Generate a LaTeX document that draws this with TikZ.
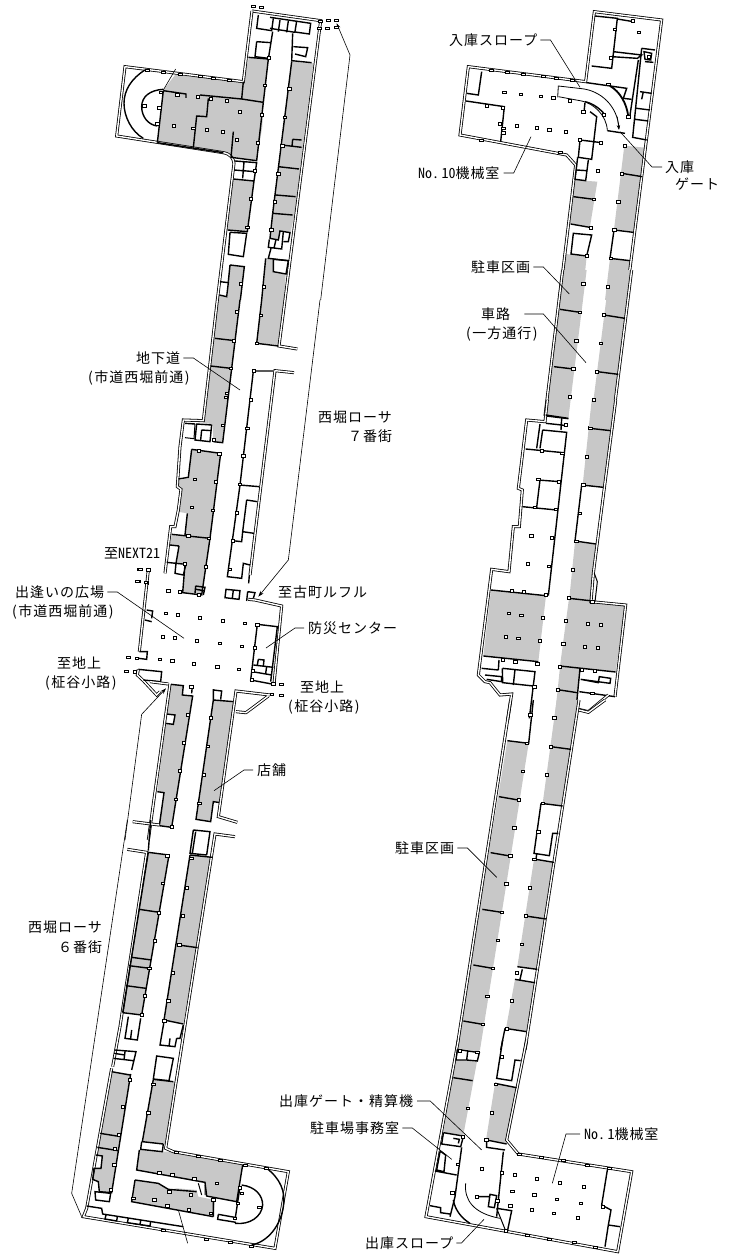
\documentclass[tikz,border=0pt]{standalone}
\usepackage{fontspec}
\usetikzlibrary{arrows.meta}
\newfontfamily\jp[LetterSpace=7]{Noto Sans CJK JP}
\newfontfamily\jph[RawFeature=+hwid]{Noto Sans CJK JP}
\definecolor{gr}{HTML}{C8C8C8}
\tikzset{
 z/.style n args={2}{shift={(#1,#2)},x=0.33333pt,y=-0.33333pt},
 g/.style={fill=gr,draw=none},
 dw/.style={draw=black,line width=.8pt,double=white,double distance=1.4pt,line join=miter},
 tw/.style={draw=black,line width=1.4pt,line join=miter},
 mw/.style={draw=black,line width=1pt},
 colm/.style={draw=black,line width=.8pt,fill=white},
 lead/.style={draw=black,line width=.6pt},
 lab/.style={inner sep=0pt,anchor=west,text height=10.6pt,text depth=0pt,font=\fontsize{14}{15}\jp},
}
\newcommand\cols[1]{\foreach \a/\b in {#1}{\draw[colm] ([shift={(-1.6pt,-1.4pt)}]\a,\b) rectangle ++(3.2pt,2.8pt);}}
\newcommand\ticks[1]{\foreach \a/\b in {#1}{\draw[colm,line width=.6pt] ([shift={(-2pt,-1pt)}]\a,\b) rectangle ++(4pt,2pt);}}
\newcommand\pth[1]{(\hskip1.5pt#1\hskip1.5pt)}
\begin{document}
\begin{tikzpicture}[x=1pt,y=-1pt]
\useasboundingbox (0,0) rectangle (752,1257);
% ---------- left plan, north
\begin{scope}[z={100}{0}]
\fill[g] (190,270)--(225,225)--(428,245)--(447,172)--(505,177)--(490,307)--(487,380)--(470,482)--(395,470)--(370,458)--(172,428)--cycle;
\fill[g] (575,185)--(640,190)--(583,645)--(572,697)--(540,693)--(535,720)--(510,715)--(518,640)--cycle;
\fill[g] (397,537)--(462,543)--(442,695)--(380,690)--cycle;
\fill[g] (390,795)--(433,800)--(421,900)--(352,900)--(358,888)--(382,890)--(386,845)--cycle;
\fill[g] (497,775)--(520,778)--(520,815)--(557,822)--(552,900)--(485,900)--cycle;
\draw[lead,{Stealth[length=5pt,width=3.5pt]}-] (710,70)--(750,165)--(662,900);
\draw[dw] (456,33)--(662,62)--(555,900);
\draw[dw] (456,33)--(430,245)--(75,200)--(50,408)--(370,458) .. controls (392,462) and (400,475) .. (402,490) -- (352,900);
\draw[tw] (475,45)--(470,85)--(515,92)--(520,55);
\draw[tw] (510,52)--(632,70)--(628,102)--(585,96);
\draw[tw] (540,60)--(535,95) (565,63)--(560,97) (590,63)--(585,95) (510,85)--(585,97);
\draw[tw] (470,125)--(513,128) (470,125)--(465,170)--(505,175) (518,95)--(505,177);
\draw[tw] (578,100)--(575,185) (575,182)--(635,188);
\draw[tw] (580,140)--(623,143)--(617,170)--(585,162);
\draw[tw] (445,172)--(505,177)--(490,307) (425,297)--(490,307) (430,245)--(425,297) (300,285)--(425,297);
\draw[tw] (325,295)--(320,350)--(290,348)--(280,443) (400,395)--(393,472) (393,472)--(470,482)--(490,307);
\draw[tw] (172,428)--(370,458) (190,272)--(172,428) (190,272)--(258,282)--(258,294);
\draw[tw] (190,268) .. controls (150,270) and (125,290) .. (125,320) .. controls (125,350) and (145,375) .. (172,378);
\draw[tw] (135,210) .. controls (95,235) and (72,270) .. (72,310) .. controls (72,350) and (95,395) .. (130,415);
\draw[tw] (575,185)--(518,640) (545,435)--(605,442) (578,418)--(605,420) (578,418)--(576,440) (535,500)--(597,507) (527,585)--(587,590) (518,640)--(578,645);
\draw[tw] (518,640)--(510,715)--(535,720)--(540,693)--(570,698)--(565,725)--(550,725);
\draw[tw] (508,718)--(505,742)--(545,747)--(550,695) (528,718)--(522,745) (513,745)--(505,775)--(565,782);
\draw[tw] (405,483)--(470,488)--(462,543) (432,486)--(428,535) (402,510)--(465,515) (400,537)--(462,543)--(442,695)--(383,690);
\draw[tw] (390,697)--(440,700)--(430,770)--(385,763)--(390,697);
\draw[tw] (390,795)--(433,800)--(421,900) (390,795)--(385,845) (360,845)--(385,848)--(380,890)--(358,885);
\draw[tw] (497,775)--(485,900) (520,778)--(565,782)--(558,822)--(520,815)--(520,778);
\draw[lead] (227,207)--(190,270);
\cols{133/317,178/323,172/372,183/277,232/285,293/291,332/297,380/303,420/336,485/344,222/378,280/385,320/390,368/395,410/420,473/428,495/256,507/174,568/267,555/352,547/437,535/522,525/606,514/690,464/513,452/597,442/682,423/852,492/860}
\ticks{143/212,190/217,240/222,300/230,340/235,388/240,660/63,657/85,685/60,710/60,683/85,708/82,460/20,483/22}
\end{scope}
% ---------- left plan, centre
\begin{scope}[z={100}{300}]
\fill[g] (354,0)--(420,0)--(368,428)--(340,425)--(338,372)--(310,370)--cycle;
\fill[g] (485,0)--(552,0)--(533,135)--(470,130)--cycle;
\fill[g] (275,448)--(362,460)--(330,715)--(255,705)--(262,640)--(232,635)--(240,565)--(232,562)--(235,540)--(265,535)--cycle;
\fill[g] (215,705)--(330,715)--(305,885)--(248,878)--(255,795)--(230,790)--(237,738)--(210,735)--cycle;
\draw[dw] (555,0)--(537,138)--(592,147);
\draw[dw] (352,0)--(310,362)--(250,360)--(240,440)--(232,560)--(243,568)--(235,630)--(225,680)--(212,680)--(195,820);
\draw[dw] (582,218)--(525,212)--(450,825);
\draw[tw] (420,0)--(368,428)--(340,425) (485,0)--(470,130)--(535,138) (345,115)--(405,122) (332,198)--(393,205);
\draw[tw] (290,372)--(335,375)--(330,425)--(285,420)--cycle (305,390)--(335,392) (305,390)--(302,420) (255,370)--(285,372);
\draw[mw] (255,413)--(282,416)--(285,372);
\draw[tw] (275,448)--(362,460)--(330,715)--(215,703) (275,448)--(265,532)--(235,537) (262,640)--(255,705);
\draw[tw] (237,738)--(210,735) (237,738)--(228,790)--(200,787) (228,790)--(258,793)--(250,825)--(225,820)--(228,790) (255,793)--(248,878)--(305,885)--(330,715);
\draw[tw] (287,858)--(315,862)--(310,885) (287,858)--(285,880) (288,868)--(312,872);
\draw[tw] (520,213)--(460,213)--(420,555)--(397,722)--(382,830)--(425,835)--(430,790)--(450,795);
\draw[tw] (418,555)--(478,560) (440,600)--(472,605) (440,600)--(428,695)--(462,700) (397,722)--(425,725)--(428,695) (448,825)--(446,850);
\draw[lead,-{Stealth[length=6pt,width=4pt]}] (660,0)--(565,780)--(475,890);
\cols{410/36,482/46,402/122,392/205,380/280,378/292,368/376,342/420,296/453,358/462,285/538,348/546,275/622,338/631,265/707,327/715,255/792,317/800,240/876,206/872,462/213,452/300,442/385,430/468,420/553,410/638,398/722,390/808,470/130,143/809,140/848,297/885}
\ticks{118/807,115/845}
\end{scope}
% ---------- plaza
\begin{scope}[z={0}{540}]
\fill[g] (513,433)--(550,437)--(547,465)--(578,468)--(515,862)--(478,857)--(492,758)--(472,755)--(497,550)--(520,553)--(525,525)--(500,522)--cycle;
\fill[g] (640,480)--(702,485)--(662,785)--(640,785)--(632,845)--(588,838)--cycle;
\draw[lead,-{Stealth[length=6pt,width=4pt]}] (375,900)--(425,523)--(498,445);
\draw[dw] (445,90)--(418,335);
\draw[tw] (418,335)--(442,335)--(440,358)--(416,355) (440,210)--(458,213)--(455,235) (435,240)--(455,245);
\draw[tw] (678,148)--(720,152)--(717,178)--(675,173)--cycle (700,150)--(697,175) (743,155)--(765,158)--(760,175) (743,155)--(740,183);
\draw[dw] (745,178)--(765,180)--(845,198)--(822,432);
\draw[tw] (772,253)--(832,260)--(812,425) (772,253)--(752,420)--(815,432);
\draw[tw] (760,375)--(820,382) (775,358)--(792,360)--(790,378) (775,358)--(772,375) (757,395)--(815,405) (800,380)--(797,400);
\draw[dw] (415,388)--(412,405)--(430,422)--(470,465)--(480,455);
\draw[tw] (415,388)--(485,395)--(482,425)--(430,420);
\draw[dw] (450,425)--(505,432) ;
\draw[tw] (513,433)--(550,437)--(547,465)--(578,468)--(515,862)--(478,857)--(492,758)--(472,755) (500,522)--(525,525)--(520,553)--(497,550) (567,437)--(577,438)--(575,460);
\draw[dw] (510,432)--(445,900) (398,845)--(478,855);
\draw[tw] (640,447)--(640,480)--(702,485) (640,480)--(588,838)--(632,845)--(640,785)--(662,788)--(702,485) (640,450)--(665,453)--(662,478);
\draw[dw] (810,465)--(708,453)--(655,830)--(712,847) (708,515)--(738,518)--(805,468);
\cols{505/152,497/220,533/225,600/233,668/242,735/250,488/290,525/294,590/302,660/310,725/319,480/358,517/363,582/371,652/380,717/388,445/90,438/127,410/355,405/396,772/255,765/323,758/393,755/420,820/432,815/463,574/440,563/524,551/608,539/692,527/778,515/861,633/534,623/619,611/704,598/790}
\ticks{420/88,413/124,385/352,380/393,845/434,845/465}
\end{scope}
% ---------- left plan, south
\begin{scope}[z={20}{820}]
\fill[g] (382,97)--(447,105)--(365,585)--(304,578)--cycle;
\fill[g] (275,755)--(332,762)--(275,1118)--(238,1115)--(235,1085)--(218,1078)--(222,1045)--(243,1045)--(247,1008)--(228,1005)--(232,985)--cycle;
\fill[g] (510,105)--(574,112)--(490,612)--(432,600)--cycle;
\fill[g] (400,778)--(465,785)--(435,972)--(367,965)--cycle;
\fill[g] (358,990)--(430,995)--(460,995)--(668,1033)--(650,1145)--(560,1125)--(555,1090)--(350,1050)--cycle;
\fill[g] (345,1080)--(415,1090)--(445,1110)--(470,1105)--(530,1110)--(535,1130)--(585,1140)--(580,1190)--(335,1145)--cycle;
\draw[lead] (322,0)--(155,1120)--(185,1190);
\draw[dw] (322,88)--(380,97)--(300,620) (275,745)--(200,1165)--(190,1190)--(765,1285)--(805,1055)--(460,995)--(437,985)--(585,42)--(645,50);
\draw[dw] (278,740)--(300,620);
\draw[tw] (392,0)--(385,92) (385,97)--(447,105)--(365,585)--(308,578) (385,97)--(308,578) (358,268)--(418,277) (335,412)--(395,420) (327,437)--(390,445) (318,497)--(378,505);
\draw[tw] (325,590)--(315,655)--(352,660)--(362,595) (335,630)--(332,655);
\draw[tw] (285,690)--(348,695)--(335,750) (282,700)--(315,705) (315,695)--(312,720) (280,715)--(340,722) (275,755)--(330,765);
\draw[tw] (332,762)--(275,1118)--(238,1115)--(235,1085)--(218,1078)--(222,1045)--(243,1045)--(247,1008)--(228,1005) (240,940)--(303,950) (232,982)--(295,992);
\draw[tw] (225,1115)--(272,1120)--(268,1145)--(227,1140)--cycle;
\draw[tw] (510,105)--(577,112) (510,105)--(432,600)--(490,612) (475,375)--(533,383);
\draw[tw] (432,605)--(420,675)--(465,680)--(470,655) (450,655)--(447,680) (490,615)--(480,655)--(470,655);
\draw[tw] (410,708)--(460,715)--(447,782)--(400,777)--cycle (400,778)--(367,965)--(430,972) (400,778)--(460,785);
\draw[tw] (520,30)--(570,35)--(560,105) (520,30)--(510,100)--(560,105) (527,35)--(517,100);
\draw[tw] (365,965)--(362,988)--(427,995)--(430,972);
\draw[tw] (358,990)--(350,1050)--(555,1087)--(560,1128)--(650,1145)--(668,1035);
\draw[mw] (535,1090)--(545,1125) (555,1095)--(555,1125);
\draw[tw] (345,1080)--(335,1145)--(580,1190) (345,1080)--(415,1090)--(445,1108)--(530,1115) (580,1140)--(580,1190);
\draw[tw] (595,1183)--(593,1198)--(648,1207) (595,1183)--(650,1193);
\draw[tw] (665,1095) .. controls (705,1100) and (728,1125) .. (728,1155) .. controls (725,1190) and (690,1215) .. (645,1210);
\draw[tw] (660,1100)--(645,1200);
\draw[tw] (740,1045) .. controls (780,1075) and (798,1115) .. (790,1160) .. controls (782,1215) and (745,1265) .. (695,1275);
\draw[tw] (200,1158)--(245,1165)--(248,1182)--(490,1220) (258,1185)--(255,1197)--(290,1203)--(292,1190) (325,1195)--(322,1208)--(390,1218)--(392,1205) (362,1202)--(360,1214);
\draw[lead] (475,1170)--(503,1270);
\cols{428/190,416/278,405/362,388/445,375/527,365/585,442/108,330/780,308/860,297/945,285/987,283/1035,272/1110,514/115,500/203,488/288,478/375,458/458,445/543,433/603,400/793,385/878,418/1058,457/1064,523/1077,590/1090,340/1135,403/1140,442/1158,507/1170,572/1180,448/1115,513/1125,580/1140,660/1103,665/1120,653/1150,718/1162,645/1195}
\ticks{470/998,535/1010,600/1022,675/1035,740/1045,430/1232,560/1257,630/1268,695/1280}
\end{scope}
% ---------- right plan, north
\begin{scope}[z={410}{0}]
\fill[g] (493,540)--(562,545)--(540,680)--(478,672)--cycle;
\fill[g] (466,762)--(530,768)--(517,900)--(448,900)--cycle;
\fill[g] (643,437)--(705,443)--(672,695)--(612,688)--cycle;
\fill[g] (600,775)--(660,782)--(648,900)--(585,900)--cycle;
\draw[dw] (448,900)--(497,495)--(470,465)--(150,405)--(175,200)--(527,245)--(553,35)--(755,60)--(648,900);
\draw[tw] (555,48)--(622,55)--(605,205)--(545,198) (622,57)--(670,65) (610,155)--(695,165)--(682,175)--(605,170);
\draw[tw] (685,180)--(660,345) (695,145)--(735,150) (695,145)--(668,412)--(710,420) (705,185)--(730,187) (690,275)--(725,280) (680,325)--(720,330) (675,358)--(715,363) (700,275)--(695,298);
\draw[tw] (702,155)--(725,160)--(722,180)--(705,178)--cycle;
\draw[tw] (530,248)--(650,265)--(640,295)--(665,298);
\draw[lead,line width=.8pt] (443,292)--(445,258)--(515,266) .. controls (570,272) and (622,315) .. (627,385);
\draw[lead,-{Stealth[length=5pt,width=3.5pt]}] (622,350)--(627,390);
\draw[lead,line width=.8pt] (445,290)--(515,303) .. controls (550,310) and (590,345) .. (592,392);
\draw[tw] (592,392)--(645,400);
\draw[line width=1.8pt] (600,258) .. controls (630,275) and (650,310) .. (655,350);
\draw[tw] (525,305) .. controls (550,310) and (575,330) .. (585,345);
\draw[tw] (540,335)--(560,350)--(545,478)--(505,472)--(510,420)--(575,428) (525,308)--(522,336);
\draw[tw] (503,472)--(495,538)--(527,542)--(535,480) (500,510)--(530,512);
\draw[tw] (215,215)--(205,285)--(170,280) (168,303)--(283,320)--(272,425);
\draw[tw] (490,590)--(552,598) (482,672)--(545,683) (490,700)--(545,705)--(530,768)--(483,762)--cycle;
\draw[tw] (635,520)--(697,530) (612,690)--(670,697) (612,690)--(600,775)--(660,782);
\cols{283/277,332/283,392/289,430/293,480/302,520/336,320/377,380/384,418/389,467/395,582/345,655/350,510/420,573/428,645/437,563/512,635/522,625/606,552/598,542/683,613/690,603/775,530/767,520/851,593/860,270/372,278/323,231/317,668/63,687/97,615/88,603/173,717/170,280/385,280/398}
\ticks{243/210,292/217,340/222,400/230,440/235,488/240,595/252,215/420,450/457}
\end{scope}
% ---------- right plan, upper straight
\begin{scope}[z={500}{270}]
\fill[g] (188,0)--(260,0)--(205,445)--(136,438)--cycle;
\fill[g] (330,0)--(392,0)--(335,478)--(270,472)--cycle;
\draw[dw] (188,0)--(135,438) (395,0)--(335,478);
\draw[tw] (180,118)--(240,127) (162,290)--(220,297) (312,135)--(375,145) (292,305)--(355,313) (270,472)--(335,480) (140,438)--(205,446);
\cols{250/42,323/50,240/127,229/212,302/220,312/135,220/296,291/305,209/381,282/390,270/474}
\end{scope}
% ---------- right plan, middle
\begin{scope}[z={460}{400}]
\fill[g] (262,0)--(330,0)--(325,55)--(258,45)--cycle;
\fill[g] (395,0)--(465,0)--(430,262)--(368,255)--cycle;
\fill[g] (345,425)--(408,432)--(390,600)--(328,595)--cycle;
\fill[g] (93,570)--(258,587)--(235,785)--(70,768)--cycle;
\fill[g] (327,595)--(395,603)--(495,618)--(467,815)--(300,798)--cycle;
\fill[g] (300,800)--(360,805)--(352,875)--(293,870)--cycle;
\fill[g] (293,870)--(352,878)--(345,960)--(283,960)--cycle;
\draw[dw] (262,0)--(255,65)--(200,60)--(175,265)--(187,270)--(178,380)--(160,380)--(147,515)--(95,508)--(55,825)--(75,845)--(90,848)--(120,885)--(155,882)--(143,960);
\draw[dw] (467,0)--(400,520)--(393,605)--(497,615)--(465,890);
\draw[mw] (403,520)--(412,545)--(405,605);
\draw[tw] (257,45)--(325,55) (258,70)--(305,75)--(320,78) (305,55)--(303,90) (240,72)--(230,145) (248,90)--(320,97)--(265,587) (248,90)--(240,145) (197,147)--(310,158) (235,240)--(300,245) (240,240)--(230,322) (187,320)--(290,330);
\draw[tw] (93,570)--(258,587) (365,255)--(430,262) (365,255)--(345,423)--(408,432) (390,85)--(452,92) (327,595)--(390,602);
\draw[tw] (70,768)--(235,785) (117,780)--(115,810) (128,805)--(225,815)--(208,955) (65,805)--(115,810) (127,805)--(128,848)--(220,858) (165,808)--(160,855) (75,825)--(125,830)--(125,845)--(80,838);
\draw[tw] (300,798)--(467,816) (360,805)--(345,960) (293,869)--(352,878) (358,875)--(465,890) (362,838)--(415,848)--(418,830)--(452,835)--(450,850)--(362,838);
\draw[dw] (355,928)--(385,935)--(445,885);
\cols{155/572,192/576,258/585,147/640,184/646,249/654,138/711,175/715,240/723,327/594,318/662,384/671,422/675,310/731,375/740,413/744,214/408,276/413,204/492,266/499,235/238,297/245,225/322,287/328,245/153,307/160,391/85,380/170,370/255,360/340,349/424,338/509,402/0,318/75,300/800,293/869,284/954,366/809,405/813,128/780,166/785,232/792,223/860,210/945,397/880,397/605}
\end{scope}
% ---------- right plan, lower straight
\begin{scope}[z={430}{700}]
\fill[g] (232,122)--(296,130)--(150,1050)--(78,1050)--cycle;
\fill[g] (380,0)--(445,0)--(398,320)--(338,310)--cycle;
\fill[g] (312,478)--(373,487)--(320,808)--(262,800)--cycle;
\fill[g] (255,838)--(315,848)--(290,995)--(228,985)--cycle;
\draw[dw] (242,0)--(80,1050) (447,0)--(285,1050);
\draw[tw] (310,0)--(296,130)--(232,122) (207,290)--(265,300) (182,458)--(240,468) (157,628)--(215,637) (130,795)--(188,805) (100,963)--(158,973) (85,1045)--(130,1050);
\draw[tw] (363,140)--(423,148) (333,310)--(398,318) (333,310)--(312,460)--(358,467)--(368,400)--(385,400) (320,462)--(318,478)--(372,487) (287,648)--(348,657);
\draw[tw] (262,800)--(322,808) (255,838)--(315,848) (277,808)--(270,838) (225,985)--(290,995) (225,985)--(212,1050);
\draw[dw] (447,30)--(475,37)--(525,0);
\cols{373/54,301/45,363/140,291/130,350/225,278/214,338/310,266/299,325/395,253/383,241/468,313/478,300/563,229/552,287/648,215/637,275/733,203/721,188/805,260/818,172/889,245/902,158/973,230/987}
\end{scope}
% ---------- right plan, south
\begin{scope}[z={400}{1040}]
\fill[g] (175,0)--(243,0)--(190,285)--(130,278)--cycle;
\fill[g] (285,130)--(350,143)--(320,310)--(258,300)--cycle;
\fill[white] (172,25)--(238,35)--(232,65)--(165,58)--cycle;
\draw[dw] (175,0)--(78,530)--(653,635)--(695,395)--(355,342)--(320,300)--(380,0);
\draw[tw] (172,28)--(238,38)--(232,63)--(200,60)--(203,35) (172,28)--(168,60)--(200,60) (160,113)--(218,122);
\draw[tw] (308,0)--(290,115)--(335,122)--(345,60)--(362,62) (285,130)--(350,143) (130,278)--(190,288) (130,280)--(125,312)--(182,320)--(190,290) (160,295)--(178,298)--(175,310);
\draw[tw] (260,300)--(320,312) (260,300)--(260,322)--(315,330);
\draw[tw] (185,322)--(165,470)--(150,530) (120,333)--(137,345)--(132,395)--(110,390)--(120,335) (105,393)--(170,405) (90,497)--(122,503)--(122,518)--(150,522);
\draw[tw] (160,480) .. controls (165,510) and (185,535) .. (210,550);
\draw[lead,line width=.8pt] (197,430) .. controls (192,480) and (220,520) .. (300,535);
\draw[tw] (310,335)--(290,530) (270,463)--(290,467)--(283,503)--(265,500)--cycle (230,470)--(270,470) (290,505)--(335,512)--(322,575);
\draw[mw] (290,505)--(318,575);
\draw[tw] (622,390)--(605,495)--(633,510)--(625,555)--(615,620) (625,555)--(660,560);
\cols{174/373,157/458,188/290,306/50,288/133,203/205,275/218,259/300,245/386,306/399,292/483,230/470,345/405,411/417,479/429,551/441,337/454,403/465,470/478,542/490,331/497,395/509,461/520,534/533,318/573,608/500,232/37,180/32}
\ticks{358/342,425/352,490/362,562/375,628/385,382/585,448/597,522/608,587/622}
\end{scope}
% ---------- labels and leaders
\node[lab] (chika) at (136,358) {地下道};
\node[lab] (chika2) at (88,377) {\pth{市道西堀前通}};
\node[lab] (rosa7) at (318,417) {西堀ローサ};
\node[lab] (rosa7b) at (348,436) {７番街};
\node[lab] (next) at (104,553) {至\jph NEXT21};
\node[lab] (deai) at (15,592) {出逢いの広場};
\node[lab] (deai2) at (12,611) {\pth{市道西堀前通}};
\node[lab] (chij1) at (57,663) {至地上};
\node[lab] (chij1b) at (45,682) {\pth{柾谷小路}};
\node[lab] (furu) at (278,592) {至古町ルフル};
\node[lab] (bosai) at (308,628) {防災センター};
\node[lab] (chij2) at (300,687) {至地上};
\node[lab] (chij2b) at (288,706) {\pth{柾谷小路}};
\node[lab] (tenpo) at (257,770) {店舗};
\node[lab] (rosa6) at (28,927) {西堀ローサ};
\node[lab] (rosa6b) at (58,947) {６番街};
\node[lab] (nyus) at (449,40) {入庫スロープ};
\node[lab] (no10) at (418,173) {\jph No.\,10\jp 機械室};
\node[lab] (nyug) at (665,167) {入庫};
\node[lab] (nyug2) at (675,184) {ゲート};
\node[lab] (chu1) at (471,267) {駐車区画};
\node[lab] (shar) at (481,314) {車路};
\node[lab] (shar2) at (466,333) {\pth{一方通行}};
\node[lab] (chu2) at (395,848) {駐車区画};
\node[lab] (shug) at (279,1101) {出庫ゲート・精算機};
\node[lab] (jimu) at (310,1128) {駐車場事務室};
\node[lab] (no1) at (584,1134) {\jph No.\,1\jp 機械室};
\node[lab] (shus) at (365,1243) {出庫スロープ};
\coordinate (t1) at (240,390);
\coordinate (t2) at (184,638.3);
\coordinate (t3) at (266,648);
\coordinate (t4) at (214,790.7);
\coordinate (t5) at (580,87.3);
\coordinate (t6) at (531,136.7);
\coordinate (t7) at (620,131.7);
\coordinate (t8) at (569.3,294);
\coordinate (t9) at (586,362.7);
\coordinate (t10) at (496.7,877.3);
\coordinate (t11) at (481.7,1150);
\coordinate (t12) at (451.7,1159.3);
\coordinate (t13) at (552.3,1183.3);
\coordinate (t14) at (484,1219.3);
\draw[lead] ([xshift=3pt]chika.east) -- ++(10pt,0pt) -- (t1);
\draw[lead] ([xshift=3pt]deai.east) -- ++(10pt,0pt) -- (t2);
\draw[lead] ([xshift=-4pt]bosai.west) -- ++(-9pt,0pt) -- (t3);
\draw[lead] ([xshift=-4pt]tenpo.west) -- ++(-9pt,0pt) -- (t4);
\draw[lead] ([xshift=3pt]nyus.east) -- ++(10pt,0pt) -- (t5);
\draw[lead] ([xshift=4pt]no10.east) -- ++(10pt,0pt) -- (t6);
\draw[lead] ([xshift=-3pt]nyug.west) -- ++(-10pt,0pt) -- (t7);
\draw[lead] ([xshift=3pt]chu1.east) -- ++(10pt,0pt) -- (t8);
\draw[lead] ([xshift=14pt]shar.east) -- ++(19pt,0pt) -- (t9);
\draw[lead] ([xshift=3pt]chu2.east) -- ++(10pt,0pt) -- (t10);
\draw[lead] ([xshift=4pt]shug.east) -- ++(13pt,0pt) -- (t11);
\draw[lead] ([xshift=3pt]jimu.east) -- ++(10pt,0pt) -- (t12);
\draw[lead] ([xshift=-4pt]no1.west) -- ++(-14pt,0pt) -- (t13);
\draw[lead] ([xshift=3pt]shus.east) -- ++(5pt,0pt) -- (t14);
\end{tikzpicture}
\end{document}
